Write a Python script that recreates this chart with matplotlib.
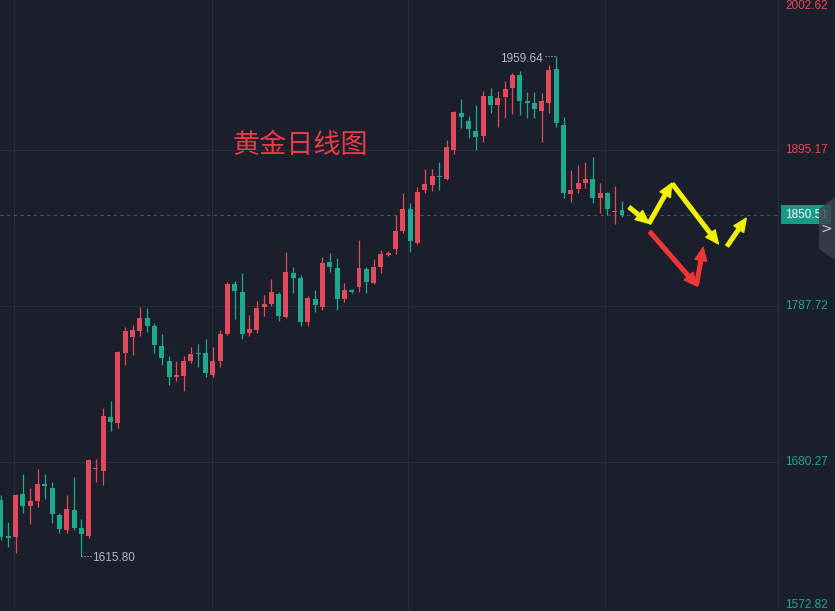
import matplotlib
matplotlib.use("Agg")
import matplotlib.pyplot as plt
from matplotlib.patches import FancyArrowPatch, Polygon

plt.rcParams['font.family'] = ['Liberation Sans', 'DejaVu Sans']

# daily gold candles
OPEN = [1654.1, 1629.4, 1628.7, 1658.3, 1650.0, 1653.5, 1664.8, 1662.4, 1643.8, 1633.5,
        1647.3, 1634.9, 1629.4, 1675.2, 1674.1, 1711.3, 1707.2, 1755.4, 1766.4, 1770.5,
        1779.5, 1774.0, 1760.2, 1749.9, 1738.9, 1739.5, 1749.9, 1755.0, 1755.4, 1740.2,
        1749.9, 1768.5, 1802.9, 1797.4, 1769.2, 1771.2, 1787.1, 1789.1, 1796.0, 1780.2,
        1810.5, 1807.0, 1776.7, 1792.6, 1787.1, 1818.1, 1813.9, 1792.6, 1798.8, 1800.8,
        1813.2, 1803.6, 1814.6, 1823.2, 1827.0, 1839.4, 1854.6, 1831.2, 1867.6, 1871.1,
        1876.9, 1875.2, 1895.2, 1920.7, 1915.2, 1908.3, 1904.8, 1932.4, 1926.2, 1931.7,
        1937.9, 1946.8, 1928.6, 1927.6, 1922.1, 1927.6, 1951.0, 1912.4, 1864.9, 1868.3,
        1872.5, 1875.2, 1862.1, 1865.6, 1852.2, 1853.9]
HIGH = [1657.6, 1639.0, 1658.5, 1672.1, 1662.4, 1675.5, 1672.1, 1666.5, 1645.2, 1657.6,
        1670.0, 1641.1, 1682.4, 1682.4, 1717.5, 1722.3, 1756.8, 1773.3, 1774.7, 1787.1,
        1786.4, 1776.1, 1768.5, 1753.3, 1749.9, 1753.3, 1759.5, 1761.6, 1765.0, 1759.5,
        1771.2, 1804.3, 1805.0, 1810.5, 1781.6, 1791.2, 1795.3, 1806.4, 1797.4, 1824.9,
        1814.6, 1809.1, 1794.6, 1798.8, 1821.5, 1824.3, 1820.8, 1803.6, 1799.5, 1833.2,
        1814.6, 1820.1, 1826.3, 1825.6, 1850.4, 1865.6, 1858.7, 1869.7, 1882.1, 1882.1,
        1886.9, 1902.1, 1922.1, 1930.3, 1918.6, 1926.2, 1935.8, 1937.9, 1935.8, 1942.7,
        1948.2, 1949.6, 1935.1, 1935.1, 1934.5, 1953.7, 1959.64, 1917.9, 1881.4, 1884.9,
        1886.9, 1890.4, 1872.5, 1866.3, 1870.4, 1860.1]
LOW = [1626.6, 1621.8, 1617.6, 1645.2, 1637.6, 1649.3, 1654.8, 1638.3, 1631.4, 1631.4,
       1633.5, 1615.8, 1628.3, 1666.5, 1664.5, 1701.7, 1703.7, 1747.1, 1754.0, 1767.1,
       1769.9, 1755.4, 1747.1, 1733.3, 1736.1, 1729.2, 1748.5, 1745.7, 1738.9, 1738.9,
       1745.7, 1767.8, 1778.8, 1765.0, 1767.1, 1769.2, 1780.9, 1787.8, 1777.4, 1779.5,
       1796.7, 1774.0, 1774.0, 1783.6, 1785.0, 1811.2, 1785.0, 1790.5, 1796.7, 1797.4,
       1796.7, 1802.9, 1810.5, 1822.5, 1823.6, 1838.0, 1824.9, 1830.5, 1865.6, 1867.0,
       1867.6, 1874.5, 1892.4, 1910.3, 1903.5, 1895.2, 1900.7, 1920.7, 1911.0, 1917.2,
       1920.0, 1919.3, 1917.2, 1917.2, 1900.7, 1920.7, 1911.0, 1862.1, 1859.4, 1865.6,
       1869.0, 1858.7, 1851.8, 1850.4, 1844.2, 1849.1]
CLOSE = [1628.7, 1628.0, 1657.6, 1650.0, 1653.5, 1665.2, 1664.1, 1644.5, 1634.2, 1648.0,
         1634.9, 1630.7, 1681.7, 1675.8, 1712.0, 1707.9, 1756.1, 1770.5, 1771.2, 1779.5,
         1774.0, 1760.9, 1751.9, 1738.9, 1740.2, 1749.9, 1754.7, 1754.4, 1741.6, 1749.9,
         1768.5, 1802.9, 1798.1, 1768.5, 1771.9, 1786.4, 1789.1, 1797.4, 1780.9, 1811.2,
         1807.0, 1776.7, 1793.3, 1788.4, 1817.4, 1814.6, 1792.6, 1798.8, 1797.4, 1813.9,
         1804.3, 1814.6, 1823.6, 1823.9, 1839.4, 1854.6, 1832.5, 1866.3, 1871.8, 1877.3,
         1876.3, 1897.3, 1921.4, 1917.9, 1909.7, 1904.1, 1932.4, 1926.2, 1931.0, 1937.2,
         1946.8, 1928.9, 1927.9, 1923.4, 1928.9, 1950.3, 1913.8, 1865.6, 1867.6, 1872.5,
         1875.2, 1862.1, 1865.6, 1854.6, 1852.8, 1850.51]

AXIS_LEVELS = [2002.62, 1895.17, 1787.72, 1680.27, 1572.82]
LAST_PRICE = 1850.51
HIGH_IDX, LOW_IDX = 76, 11
TITLE = "黄金日线图"
MONTH_LINES = [1.78, 28.88, 55.71, 82.67]

# hand drawn forecast arrows: (x0, p0, x1, p1)
YELLOW_PATH = [(86.0, 1855.7, 88.7, 1844.7), (88.7, 1844.7, 91.8, 1872.3),
               (91.9, 1871.8, 98.2, 1830.5), (99.4, 1829.1, 102.0, 1848.2)]
RED_PATH = [(88.8, 1838.9, 95.3, 1801.5), (95.2, 1802.2, 96.1, 1828.2)]

BG = '#1b1f2b'
GRID = '#272c3a'
UP = '#e2495a'
DOWN = '#1ea98f'
GREY_TXT = '#b4b7c0'

W, H = 835, 611
fig = plt.figure(figsize=(W / 100, H / 100), dpi=100, facecolor=BG)
ax = fig.add_axes([0, 0, 778 / W, 1])
ax.set_facecolor(BG)

xs = list(range(len(OPEN)))
colors = [UP if c >= o else DOWN for o, c in zip(OPEN, CLOSE)]
bottoms = [min(o, c) for o, c in zip(OPEN, CLOSE)]
heights = [max(abs(c - o), 0.8) for o, c in zip(OPEN, CLOSE)]

for lvl in AXIS_LEVELS:
    ax.axhline(lvl, color=GRID, lw=0.8, zorder=0)
for xv in MONTH_LINES:
    ax.axvline(xv, color=GRID, lw=0.8, zorder=0)

ax.vlines(xs, LOW, HIGH, colors=colors, lw=0.9, zorder=2)
ax.bar(xs, heights, bottom=bottoms, width=0.68, color=colors, lw=0, zorder=3)

ax.axhline(LAST_PRICE, color=DOWN, lw=0.8, ls=(0, (3, 3)), alpha=0.55, zorder=1)

ax.set_xlim(-0.137, 106.35)
ax.set_ylim(1577.7, 1998.5)
ax.set_xticks([])
ax.set_yticks([])
for s in ['top', 'bottom', 'left']:
    ax.spines[s].set_visible(False)
ax.spines['right'].set_color('#2a2e3b')
ax.spines['right'].set_linewidth(1)

# right price scale; the outer two levels sit just off the visible range,
# so pin them to the top / bottom edge instead
ymin, ymax = ax.get_ylim()
for lvl in AXIS_LEVELS:
    col = UP if lvl > LAST_PRICE else DOWN
    if lvl > ymax:
        ax.text(1.009, 1.0, f"{lvl:.2f}", transform=ax.transAxes, color=col,
                fontsize=8.5, ha='left', va='top', clip_on=False)
    elif lvl < ymin:
        ax.text(1.009, 0.0, f"{lvl:.2f}", transform=ax.transAxes, color=col,
                fontsize=8.5, ha='left', va='bottom', clip_on=False)
    else:
        ax.text(1.009, lvl, f"{lvl:.2f}", transform=ax.get_yaxis_transform(),
                color=col, fontsize=8.5, ha='left', va='center', clip_on=False)
ax.text(1.009, LAST_PRICE, f"{LAST_PRICE:.2f}", transform=ax.get_yaxis_transform(),
        color='white', fontsize=8.5, ha='left', va='center', clip_on=False,
        bbox=dict(boxstyle='square,pad=0.3', fc='#179b86', ec='none'))

# high / low markers
ax.plot([74.4, HIGH_IDX], [HIGH[HIGH_IDX]] * 2, color=GREY_TXT, lw=0.8, ls=':')
ax.text(74.2, HIGH[HIGH_IDX] - 1.5, f"{HIGH[HIGH_IDX]:.2f}", color=GREY_TXT,
        fontsize=8.5, ha='right', va='center')
ax.plot([LOW_IDX, 12.3], [LOW[LOW_IDX]] * 2, color=GREY_TXT, lw=0.8, ls=':')
ax.text(12.46, LOW[LOW_IDX] - 1.8, f"{LOW[LOW_IDX]:.2f}", color=GREY_TXT,
        fontsize=8.5, ha='left', va='center')

ax.text(233 / 778, 1 - 145 / H, TITLE, transform=ax.transAxes, color='#ea3a48',
        fontsize=19.5, family=['Noto Sans CJK SC', 'DejaVu Sans'], ha='left', va='center')

for path, col in [(YELLOW_PATH, '#f2f200'), (RED_PATH, '#ef3535')]:
    for x0, p0, x1, p1 in path:
        ax.add_patch(FancyArrowPatch((x0, p0), (x1, p1),
                                     arrowstyle='simple,head_length=0.95,head_width=0.85,tail_width=0.26',
                                     mutation_scale=10, color=col, shrinkA=0, shrinkB=0, zorder=5))

# scroll button at the right edge
hexa = Polygon([(835 / W, 1 - 197 / H), (819 / W, 1 - 209 / H), (819 / W, 1 - 249 / H),
                (835 / W, 1 - 260 / H)], closed=True, transform=fig.transFigure,
               fc='#3d414d', ec='none', alpha=0.8, zorder=10)
fig.patches.append(hexa)
fig.text(826 / W, 1 - 229 / H, '>', color='#c4c7ce', fontsize=10,
         family='DejaVu Sans', ha='center', va='center', zorder=11)

fig.savefig('out.png', dpi=100, facecolor=BG)
